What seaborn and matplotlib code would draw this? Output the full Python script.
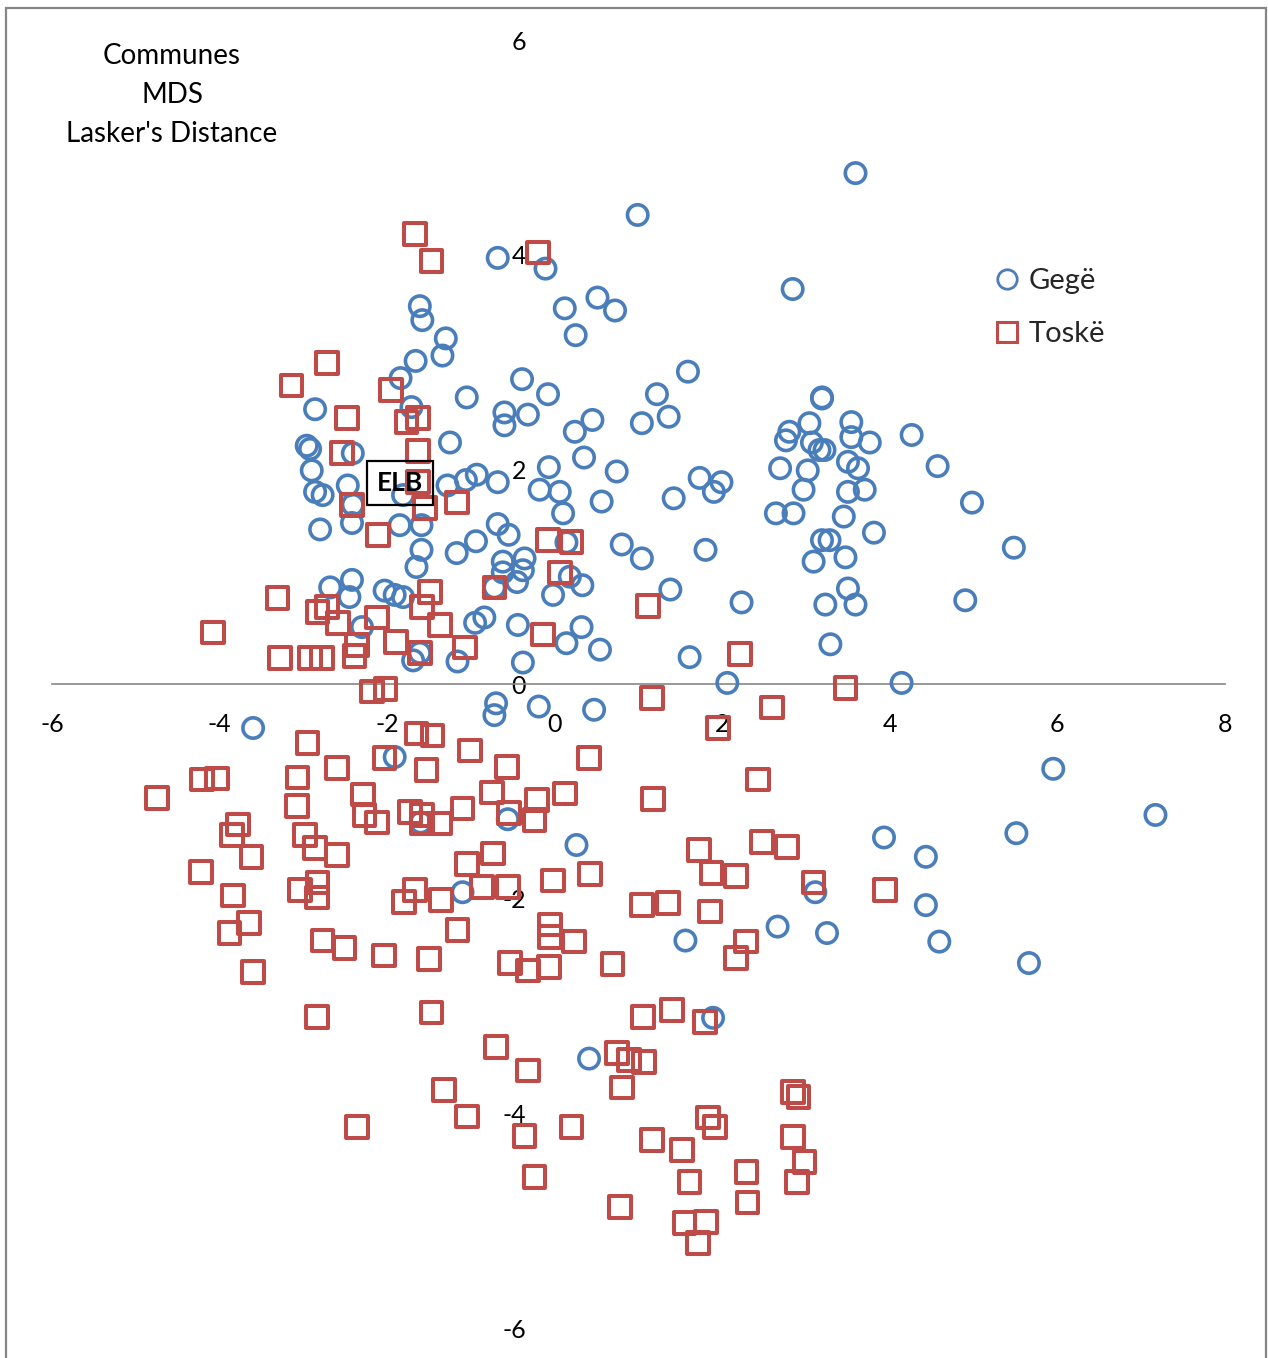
import matplotlib
matplotlib.use("Agg")
import matplotlib.pyplot as plt
from matplotlib.lines import Line2D
from matplotlib.patches import Rectangle
import seaborn as sns
import pandas as pd

# ---------------- data ----------------
gege_x = [
    3.59, 0.99, 2.84, -0.68, -0.11, -1.61, -1.58, 0.12, 0.51, 0.72,
    0.25, -1.30, -1.34, -1.66, -0.39, -1.84, 1.59, -1.05, -0.08, 1.22,
    -2.86, -1.71, -0.60, -0.32, -0.60, 0.45, 0.24, 1.04, 1.36, -2.96,
    -2.92, -2.90, -2.86, -2.77, -2.80, -2.47, -2.41, -2.41, -2.42, -1.25,
    0.35, 0.74, -0.07, -0.18, 0.06, 0.10, 0.56, -0.68, -0.93, -1.06,
    -1.28, -1.81, -1.85, -1.59, -1.59, -1.65, -1.17, -0.94, -0.68, -0.55,
    0.80, 1.04, 0.14, -0.62, -0.36, -0.62, -0.38, -0.45, -0.72, 0.18,
    0.33, -0.02, -0.84, -0.95, -0.44, 0.32, 0.14, 0.54, -0.38, -2.68,
    -2.42, -2.45, -2.03, -1.91, -1.81, -2.30, -1.61, -1.69, -1.16, 3.19,
    3.19, 3.04, 2.80, 2.76, 3.54, 3.54, 3.76, 3.07, 3.16, 3.22,
    4.26, 2.69, 3.02, 3.50, 3.62, 4.57, 1.73, 1.99, 1.90, 1.42,
    2.97, 3.50, 3.70, 2.64, 2.85, 3.45, 4.98, 3.81, 3.19, 3.28,
    1.80, 3.09, 3.47, 5.48, 1.38, 2.23, 3.23, 3.59, 3.50, 4.90,
    3.29, 1.61, 2.06, 4.14, -3.60, -0.70, -0.72, -0.19, 0.47, -1.91,
    -1.60, -0.56, 0.26, -1.10, 1.56, 2.66, 3.25, 3.11, 3.93, 4.43,
    4.43, 4.59, 5.51, 5.95, 7.17, 5.66, 1.89, 0.41,
]
gege_y = [
    4.76, 4.37, 3.68, 3.97, 3.87, 3.52, 3.39, 3.50, 3.60, 3.48,
    3.25, 3.22, 3.06, 3.01, 2.84, 2.85, 2.91, 2.67, 2.70, 2.70,
    2.56, 2.58, 2.53, 2.51, 2.41, 2.46, 2.35, 2.43, 2.49, 2.22,
    2.19, 1.99, 1.79, 1.76, 1.44, 1.85, 2.15, 1.67, 1.50, 2.25,
    2.11, 1.98, 2.02, 1.81, 1.79, 1.59, 1.70, 1.88, 1.95, 1.90,
    1.85, 1.76, 1.48, 1.48, 1.25, 1.09, 1.22, 1.33, 1.49, 1.39,
    1.30, 1.17, 1.32, 1.14, 1.17, 1.04, 1.06, 0.95, 0.90, 1.00,
    0.92, 0.83, 0.62, 0.57, 0.55, 0.53, 0.38, 0.32, 0.20, 0.90,
    0.97, 0.81, 0.87, 0.83, 0.81, 0.53, 0.29, 0.22, 0.21, 2.67,
    2.66, 2.43, 2.35, 2.27, 2.44, 2.30, 2.25, 2.25, 2.18, 2.18,
    2.32, 2.01, 1.99, 2.07, 2.01, 2.03, 1.92, 1.88, 1.79, 1.73,
    1.81, 1.79, 1.81, 1.59, 1.59, 1.56, 1.69, 1.41, 1.34, 1.34,
    1.25, 1.14, 1.18, 1.27, 0.88, 0.76, 0.74, 0.74, 0.89, 0.78,
    0.37, 0.25, 0.01, 0.01, -0.41, -0.18, -0.29, -0.21, -0.24, -0.68,
    -1.29, -1.26, -1.50, -1.94, -2.39, -2.26, -2.32, -1.94, -1.43, -1.61,
    -2.06, -2.40, -1.39, -0.79, -1.22, -2.60, -3.11, -3.49,
]

toske_x = [
    -1.67, -1.47, -0.20, -2.72, -3.14, -1.95, -2.48, -1.77, -1.63, -2.54,
    -1.63, -1.63, -2.42, -1.55, -1.17, -2.11, -0.08, 0.20, 0.06, -0.72,
    -3.31, -4.08, -2.72, -2.83, -2.59, -2.12, -1.49, -1.58, -1.37, -1.89,
    -2.36, -2.39, -3.28, -2.92, -2.78, -1.61, -1.07, -0.14, 1.11, 2.21,
    -2.18, -2.02, 1.16, 2.59, 1.95, 3.47, -2.95, -1.65, -1.46, -2.60,
    -2.03, -1.53, -3.07, -4.21, -4.03, -4.75, -2.29, -3.08, -2.27, -2.12,
    -1.73, -1.58, -1.58, -1.37, -3.78, -3.85, -3.62, -2.98, -2.86, -2.60,
    -4.22, -3.84, -2.83, -3.04, -2.84, -1.80, -1.67, -1.36, -3.65, -3.88,
    -2.77, -2.51, -2.04, -1.50, -3.60, -2.84, -1.47, -1.01, -0.57, 0.41,
    -0.75, -0.21, 0.12, 1.17, -1.10, -0.55, -0.24, -0.74, -1.05, -0.87,
    -0.56, -0.02, 0.42, -1.16, -0.06, -0.06, 0.23, 1.04, 1.35, -0.53,
    -0.32, -0.07, 0.69, 2.43, 1.72, 2.47, 2.77, 1.87, 2.16, 3.09,
    3.94, 1.85, 2.28, 2.16, 1.05, 1.40, 1.79, 0.74, 0.89, 1.07,
    0.80, 2.84, 2.91, 0.20, 1.83, 1.91, 1.16, 1.52, 2.84, 2.98,
    1.61, 2.29, 2.89, 0.78, 2.30, 1.55, 1.81, 1.71, -0.70, -0.32,
    -1.32, -1.05, -2.36, -0.36, -0.24,
]
toske_y = [
    4.19, 3.94, 4.02, 2.99, 2.78, 2.74, 2.48, 2.44, 2.48, 2.15,
    2.17, 1.88, 1.67, 1.64, 1.69, 1.39, 1.34, 1.32, 1.04, 0.90,
    0.80, 0.48, 0.72, 0.67, 0.57, 0.62, 0.86, 0.72, 0.55, 0.39,
    0.36, 0.26, 0.24, 0.24, 0.24, 0.29, 0.34, 0.46, 0.73, 0.28,
    -0.07, -0.05, -0.13, -0.22, -0.41, -0.04, -0.55, -0.46, -0.48, -0.78,
    -0.69, -0.80, -0.87, -0.89, -0.88, -1.06, -1.03, -1.14, -1.22, -1.29,
    -1.19, -1.22, -1.30, -1.30, -1.31, -1.41, -1.61, -1.41, -1.53, -1.59,
    -1.75, -1.97, -1.85, -1.92, -1.99, -2.03, -1.92, -2.01, -2.23, -2.32,
    -2.39, -2.46, -2.53, -2.56, -2.68, -3.10, -3.06, -0.62, -0.77, -0.69,
    -1.01, -1.08, -1.02, -1.07, -1.16, -1.20, -1.27, -1.58, -1.68, -1.89,
    -1.89, -1.83, -1.77, -2.29, -2.24, -2.36, -2.40, -2.06, -2.04, -2.60,
    -2.67, -2.64, -2.61, -0.89, -1.55, -1.47, -1.52, -1.76, -1.79, -1.85,
    -1.92, -2.12, -2.40, -2.55, -3.10, -3.04, -3.15, -3.44, -3.50, -3.52,
    -3.76, -3.80, -3.85, -4.13, -4.04, -4.13, -4.25, -4.34, -4.22, -4.45,
    -4.64, -4.55, -4.64, -4.87, -4.83, -5.02, -5.01, -5.21, -3.38, -3.60,
    -3.78, -4.03, -4.13, -4.21, -4.59,
]

groups = ["Gegë", "Toskë"]
x_ticks = [-6, -4, -2, 0, 2, 4, 6, 8]
y_ticks = [-6, -4, -2, 0, 2, 4, 6]
title_lines = ["Communes", "MDS", "Lasker's Distance"]
annot_label = "ELB"
annot_xy = (-1.85, 1.87)

df = pd.DataFrame({
    "x": gege_x + toske_x,
    "y": gege_y + toske_y,
    "group": [groups[0]] * len(gege_x) + [groups[1]] * len(toske_x),
})

# ---------------- style ----------------
sns.set_theme(style="white")
plt.rcParams["font.family"] = ["Lato", "DejaVu Sans"]
plt.rcParams["axes.unicode_minus"] = False

BLUE = "#4A7EBB"
RED = "#BE4B48"
GREY = "#868686"

W, H = 1268, 1358
fig = plt.figure(figsize=(W / 100, H / 100), dpi=100)
ax = fig.add_axes([52 / W, 30 / H, (1225 - 52) / W, (1328 - 40) / H])
ax.set_facecolor("none")

styles = {
    "Gegë": dict(marker="o", color=BLUE, s=215, lw=2.6),
    "Toskë": dict(marker="s", color=RED, s=245, lw=2.9),
}
for g in groups:
    st = styles[g]
    sub = df[df["group"] == g]
    sns.scatterplot(data=sub, x="x", y="y", ax=ax, marker=st["marker"],
                    s=st["s"], color=st["color"], facecolor="none",
                    edgecolor=st["color"], linewidth=st["lw"], legend=False,
                    zorder=3)

ax.set_xlim(-6, 8)
ax.set_ylim(-6, 6)
ax.set_xlabel("")
ax.set_ylabel("")

# Excel-like axes crossing at the origin
for side in ["top", "right"]:
    ax.spines[side].set_visible(False)
ax.spines["bottom"].set_position(("data", 0))
ax.spines["bottom"].set_color(GREY)
ax.spines["bottom"].set_linewidth(1.2)
ax.spines["left"].set_position(("data", 0))
ax.spines["left"].set_color("none")

ax.set_xticks(x_ticks)
ax.set_xticklabels([str(t) for t in x_ticks])
ax.set_yticks(y_ticks)
ax.set_yticklabels([str(t) for t in y_ticks])
ax.tick_params(axis="x", direction="out", length=8, width=1.1, color=GREY,
               labelsize=18, pad=13, labelcolor="black")
ax.tick_params(axis="y", direction="out", length=7.5, width=1.1, color=GREY,
               labelsize=18, pad=13, labelcolor="black")
ax.grid(False)

# title block
ax.text(0.1023, 0.957, "\n".join(title_lines), transform=ax.transAxes,
        ha="center", va="center", fontsize=20, linespacing=1.62,
        color="black", zorder=5)

# ELB annotation
ax.text(annot_xy[0], annot_xy[1], annot_label, ha="center", va="center",
        fontsize=19, fontweight="bold", color="black", zorder=6,
        bbox=dict(boxstyle="square,pad=0.38", fc="none", ec="black", lw=1.6))

# legend
handles = [
    Line2D([], [], ls="", marker="o", mfc="none", mec=BLUE, mew=2.0, ms=14),
    Line2D([], [], ls="", marker="s", mfc="none", mec=RED, mew=2.2, ms=14),
]
ax.legend(handles, groups, loc="upper left", bbox_to_anchor=(0.8018, 0.823),
          frameon=False, fontsize=21, handlelength=1.0, handletextpad=0.25,
          labelspacing=0.93, borderpad=0, borderaxespad=0)

# chart frame (bottom edge falls outside the picture)
fig.add_artist(Rectangle((6 / W, -0.1), (1266 - 6) / W, (1 - 8 / H) + 0.1,
                         transform=fig.transFigure, fill=False,
                         edgecolor=GREY, lw=1.6, zorder=10))

fig.savefig("out.png", dpi=100)
